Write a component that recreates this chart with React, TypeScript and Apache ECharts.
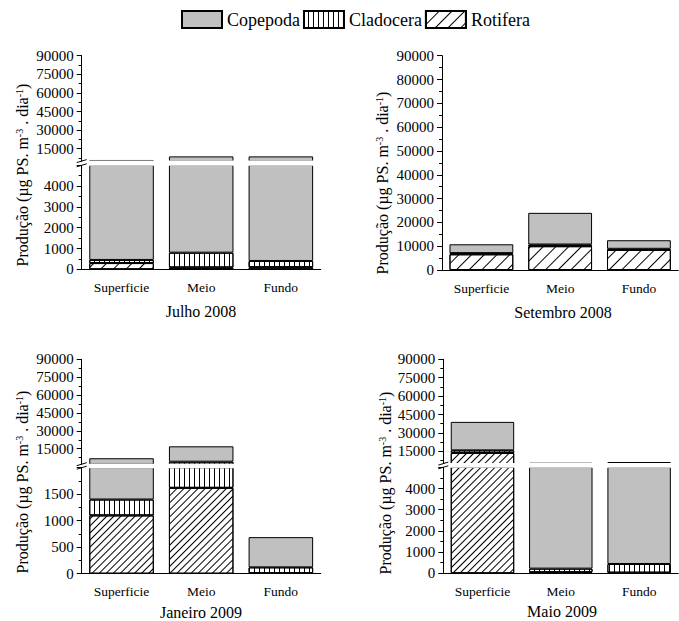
import { useEffect, useRef } from "react";
import * as echarts from "echarts";

const categories = ["Superficie", "Meio", "Fundo"];
const stackOrder = ["Rotifera", "Cladocera", "Copepoda"];
const legendNames = ["Copepoda", "Cladocera", "Rotifera"];

// Julho 2008
const julhoRotifera = [300, 90, 100];
const julhoCladocera = [150, 710, 300];
const julhoCopepoda = [5450, 8000, 8400];
// Setembro 2008
const setembroRotifera = [6600, 10000, 8400];
const setembroCladocera = [500, 700, 500];
const setembroCopepoda = [3700, 13300, 3600];
// Janeiro 2009
const janeiroRotifera = [1100, 1620, 10];
const janeiroCladocera = [300, 2480, 110];
const janeiroCopepoda = [5600, 12900, 570];
// Maio 2009
const maioRotifera = [13700, 50, 30];
const maioCladocera = [2100, 170, 410];
const maioCopepoda = [23200, 5480, 5860];

const panelTitles = ["Julho 2008", "Setembro 2008", "Janeiro 2009", "Maio 2009"];
const upperTickValues = [15000, 30000, 45000, 60000, 75000, 90000];
const upperMinorValues = [7500, 22500, 37500, 52500, 67500, 82500];

const FONT = "'Liberation Serif', 'Times New Roman', serif";
const BLACK = "#000";

type Seg = { top: number; bottom: number; min: number; max: number; interval?: number };
type Panel = {
  title: string;
  data: number[][];
  left: number;
  right: number;
  upper?: Seg;
  lower: Seg;
  yName: { x: number; y: number };
  titlePos: { x: number; y: number };
  hatch: number;
};

const panels: Panel[] = [
  {
    title: panelTitles[0],
    data: [julhoRotifera, julhoCladocera, julhoCopepoda],
    left: 81.7,
    right: 320.7,
    upper: { top: 55.7, bottom: 161.1, min: 5000, max: 90000 },
    lower: { top: 165.3, bottom: 269.3, min: 0, max: 5000, interval: 1000 },
    yName: { x: 22, y: 175 },
    titlePos: { x: 201, y: 311 },
    hatch: 8,
  },
  {
    title: panelTitles[1],
    data: [setembroRotifera, setembroCladocera, setembroCopepoda],
    left: 442,
    right: 678.3,
    lower: { top: 55.7, bottom: 270, min: 0, max: 90000, interval: 10000 },
    yName: { x: 382, y: 183 },
    titlePos: { x: 563, y: 312 },
    hatch: 8,
  },
  {
    title: panelTitles[2],
    data: [janeiroRotifera, janeiroCladocera, janeiroCopepoda],
    left: 81.7,
    right: 320.7,
    upper: { top: 359.3, bottom: 464.2, min: 2000, max: 90000 },
    lower: { top: 467.7, bottom: 573.7, min: 0, max: 2000, interval: 500 },
    yName: { x: 22, y: 482 },
    titlePos: { x: 201, y: 612 },
    hatch: 3.5,
  },
  {
    title: panelTitles[3],
    data: [maioRotifera, maioCladocera, maioCopepoda],
    left: 443.3,
    right: 678.3,
    upper: { top: 359.3, bottom: 463.6, min: 5000, max: 90000 },
    lower: { top: 467.3, bottom: 573.3, min: 0, max: 5000, interval: 1000 },
    yName: { x: 385, y: 483 },
    titlePos: { x: 562, y: 611 },
    hatch: 3.5,
  },
];

function itemStyleFor(name: string, hatch: number) {
  const base = { borderColor: BLACK, borderWidth: 1 };
  if (name === "Copepoda") return { ...base, color: "#c0c0c0" };
  if (name === "Cladocera")
    return {
      ...base,
      color: "#fff",
      decal: {
        symbol: "rect",
        symbolSize: 1,
        color: BLACK,
        backgroundColor: "#fff",
        dashArrayX: [1, 0],
        dashArrayY: [1, 4],
        rotation: Math.PI / 2,
      },
    };
  return {
    ...base,
    color: "#fff",
    decal: {
      symbol: "rect",
      symbolSize: 1,
      color: BLACK,
      backgroundColor: "#fff",
      dashArrayX: [1, 0],
      dashArrayY: [1, hatch],
      rotation: -Math.PI / 4,
    },
  };
}

function buildOption() {
  const grid: any[] = [];
  const xAxis: any[] = [];
  const yAxis: any[] = [];
  const series: any[] = [];
  const graphic: any[] = [];
  const lineStyle = { color: BLACK, width: 1 };
  const tickLabel = { fontFamily: FONT, fontSize: 15, color: BLACK, margin: 8, formatter: (v: number) => String(v) };

  panels.forEach((p) => {
    const segs: Seg[] = p.upper ? [p.lower, p.upper] : [p.lower];
    segs.forEach((seg) => {
      const isLower = seg === p.lower;
      const gi = grid.length;
      grid.push({ left: p.left, top: seg.top, width: p.right - p.left, height: seg.bottom - seg.top });
      const xi = xAxis.length;
      xAxis.push({
        type: "category",
        gridIndex: gi,
        data: categories,
        show: isLower,
        position: "bottom",
        axisLine: { lineStyle },
        axisTick: { alignWithLabel: true, length: 6, lineStyle },
        axisLabel: { fontFamily: FONT, fontSize: 13.5, color: BLACK, margin: 11 },
      });
      if (isLower) {
        xAxis.push({
          type: "category",
          gridIndex: gi,
          data: categories,
          position: "bottom",
          axisLine: { show: false },
          axisLabel: { show: false },
          axisTick: { length: 3, lineStyle },
        });
      }
      const yi = yAxis.length;
      if (isLower) {
        yAxis.push({
          type: "value",
          gridIndex: gi,
          position: "left",
          min: seg.min,
          max: seg.max,
          interval: seg.interval,
          axisLine: { show: true, lineStyle },
          axisTick: { show: true, length: 5, lineStyle },
          minorTick: { show: true, splitNumber: 2, length: 3, lineStyle },
          splitLine: { show: false },
          axisLabel: { ...tickLabel, showMaxLabel: !p.upper },
        });
      } else {
        yAxis.push({
          type: "value",
          gridIndex: gi,
          position: "left",
          min: seg.min,
          max: seg.max,
          axisLine: { show: true, lineStyle },
          axisTick: { show: true, length: 5, lineStyle, customValues: upperTickValues },
          splitLine: { show: false },
          axisLabel: { ...tickLabel, customValues: upperTickValues },
        });
        yAxis.push({
          type: "value",
          gridIndex: gi,
          position: "left",
          min: seg.min,
          max: seg.max,
          axisLine: { show: false },
          axisTick: { show: true, length: 3, lineStyle, customValues: upperMinorValues },
          splitLine: { show: false },
          axisLabel: { show: false },
        });
      }
      stackOrder.forEach((name, k) => {
        series.push({
          type: "bar",
          name,
          xAxisIndex: xi,
          yAxisIndex: yi,
          stack: "s" + gi,
          data: p.data[k],
          barWidth: "81%",
          clip: true,
          silent: true,
          itemStyle: itemStyleFor(name, p.hatch),
        });
      });
    });

    if (p.upper) {
      graphic.push({
        type: "rect",
        z: 100,
        silent: true,
        shape: {
          x: p.left + 1,
          y: p.upper.bottom - 0.5,
          width: p.right - p.left,
          height: p.lower.top - p.upper.bottom + 1,
        },
        style: { fill: "#fff" },
      });
      [p.upper.bottom, p.lower.top].forEach((yy) => {
        graphic.push({
          type: "line",
          z: 101,
          silent: true,
          shape: { x1: p.left - 5, y1: yy + 1.5, x2: p.left + 5, y2: yy - 1.5 },
          style: { stroke: BLACK, lineWidth: 1 },
        });
      });
    }

    graphic.push({
      type: "text",
      z: 101,
      silent: true,
      x: p.yName.x,
      y: p.yName.y,
      rotation: Math.PI / 2,
      style: {
        text: "Produção (µg PS. m{sup|-3} . dia{sup|-1})",
        font: "16px " + FONT,
        fill: BLACK,
        align: "center",
        verticalAlign: "middle",
        rich: {
          sup: { font: "10px " + FONT, verticalAlign: "top", lineHeight: 10, fill: BLACK },
        },
      },
    });
    graphic.push({
      type: "text",
      z: 101,
      silent: true,
      x: p.titlePos.x,
      y: p.titlePos.y,
      style: {
        text: p.title,
        font: "16px " + FONT,
        fill: BLACK,
        align: "center",
        verticalAlign: "middle",
      },
    });
  });

  return {
    animation: false,
    textStyle: { fontFamily: FONT, color: BLACK },
    legend: {
      data: legendNames,
      left: 181,
      top: 10,
      padding: 0,
      itemWidth: 40,
      itemHeight: 17,
      itemGap: 3,
      icon: "rect",
      textStyle: { fontFamily: FONT, fontSize: 18, color: BLACK },
      selectedMode: false,
    },
    grid,
    xAxis,
    yAxis,
    series,
    graphic,
  };
}

export default function App() {
  const ref = useRef<HTMLDivElement>(null);
  useEffect(() => {
    if (!ref.current) return;
    const chart = echarts.init(ref.current, undefined, { renderer: "svg" });
    chart.setOption(buildOption() as any);
    return () => chart.dispose();
  }, []);
  return (
    <div
      ref={ref}
      style={{ position: "absolute", left: 0, top: 0, width: 679, height: 621, background: "#fff" }}
    />
  );
}
